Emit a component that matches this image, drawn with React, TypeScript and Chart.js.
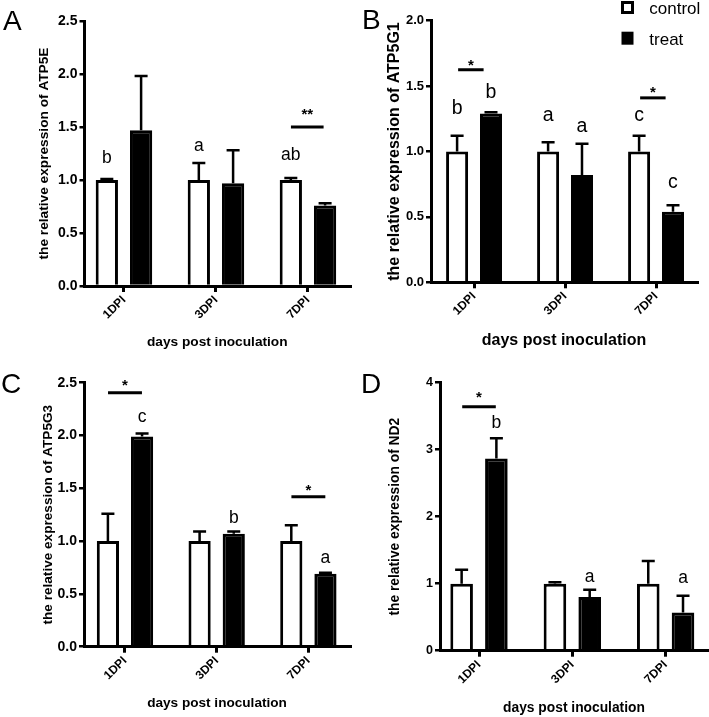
import React, { useEffect, useRef } from 'react';
import { Chart, registerables } from 'chart.js';

Chart.register(...registerables);

// ---------- data ----------
const categories = ['1DPI', '3DPI', '7DPI'];
const seriesNames = ['control', 'treat'];
const xTitle = 'days post inoculation';

// Panel A – ATP5E
const controlA = [1.0, 1.0, 1.0];
const controlErrA = [0.01, 0.16, 0.02];
const treatA = [1.47, 0.97, 0.76];
const treatErrA = [0.51, 0.31, 0.02];
const yTicksA = [0, 0.5, 1.0, 1.5, 2.0, 2.5];
const lettersA = [
  { cat: 0, series: 0, text: 'b', y: 1.16 },
  { cat: 1, series: 0, text: 'a', y: 1.27 },
  { cat: 2, series: 0, text: 'ab', y: 1.19 },
];
const sigsA = [{ cat: 2, y: 1.5, text: '**', textY: 1.66 }];

// Panel B – ATP5G1
const controlB = [1.0, 1.0, 1.0];
const controlErrB = [0.12, 0.07, 0.12];
const treatB = [1.29, 0.82, 0.54];
const treatErrB = [0.01, 0.24, 0.05];
const yTicksB = [0, 0.5, 1.0, 1.5, 2.0];
const lettersB = [
  { cat: 0, series: 0, text: 'b', y: 1.29 },
  { cat: 0, series: 1, text: 'b', y: 1.41 },
  { cat: 1, series: 0, text: 'a', y: 1.23 },
  { cat: 1, series: 1, text: 'a', y: 1.15 },
  { cat: 2, series: 0, text: 'c', y: 1.23 },
  { cat: 2, series: 1, text: 'c', y: 0.72 },
];
const sigsB = [
  { cat: 0, y: 1.625, text: '*', textY: 1.69 },
  { cat: 2, y: 1.41, text: '*', textY: 1.48 },
];

// Panel C – ATP5G3
const controlC = [1.0, 1.0, 1.0];
const controlErrC = [0.26, 0.09, 0.15];
const treatC = [1.99, 1.07, 0.69];
const treatErrC = [0.03, 0.02, 0.01];
const yTicksC = [0, 0.5, 1.0, 1.5, 2.0, 2.5];
const lettersC = [
  { cat: 0, series: 1, text: 'c', y: 2.13 },
  { cat: 1, series: 1, text: 'b', y: 1.17 },
  { cat: 2, series: 1, text: 'a', y: 0.79 },
];
const sigsC = [
  { cat: 0, y: 2.405, text: '*', textY: 2.51 },
  { cat: 2, y: 1.42, text: '*', textY: 1.515 },
];

// Panel D – ND2
const controlD = [1.0, 1.0, 1.0];
const controlErrD = [0.21, 0.02, 0.34];
const treatD = [2.87, 0.8, 0.57];
const treatErrD = [0.3, 0.11, 0.25];
const yTicksD = [0, 1, 2, 3, 4];
const lettersD = [
  { cat: 0, series: 1, text: 'b', y: 3.32 },
  { cat: 1, series: 1, text: 'a', y: 1.03 },
  { cat: 2, series: 1, text: 'a', y: 1.015 },
];
const sigsD = [{ cat: 0, y: 3.64, text: '*', textY: 3.84 }];

// ---------- layout / style ----------
const FONT = "'Liberation Sans', Arial, Helvetica, sans-serif";

type Letter = { cat: number; series: number; text: string; y: number };
type Sig = { cat: number; y: number; text: string; textY: number };

interface PanelDef {
  tag: string;
  gene: string;
  control: number[];
  controlErr: number[];
  treat: number[];
  treatErr: number[];
  yTicks: number[];
  decimals: number;
  letters: Letter[];
  sigs: Sig[];
  legend: boolean;
  box: { left: number; top: number; w: number; h: number };
  area: [number, number, number, number];
  yTitleX: number;
  xTitleY: number;
  xRange: [number, number];
  span: [number, number];
  tickFont: number;
  titleFont: number;
  letterFont: number;
  tagPos: [number, number];
}

const panels: PanelDef[] = [
  {
    tag: 'A', gene: 'ATP5E', control: controlA, controlErr: controlErrA, treat: treatA, treatErr: treatErrA,
    yTicks: yTicksA, decimals: 1, letters: lettersA, sigs: sigsA, legend: false,
    box: { left: 0, top: 0, w: 354, h: 358 }, area: [84.5, 21, 350, 286], yTitleX: 44, xTitleY: 342,
    xRange: [-0.429, 2.457], span: [-0.185, 0.17], tickFont: 14, titleFont: 13.7, letterFont: 17.5, tagPos: [3, 29.5],
  },
  {
    tag: 'B', gene: 'ATP5G1', control: controlB, controlErr: controlErrB, treat: treatB, treatErr: treatErrB,
    yTicks: yTicksB, decimals: 1, letters: lettersB, sigs: sigsB, legend: true,
    box: { left: 354, top: 0, w: 355, h: 358 }, area: [77, 20.7, 343, 282.3], yTitleX: 41, xTitleY: 341,
    xRange: [-0.473, 2.45], span: [-0.175, 0.105], tickFont: 13, titleFont: 16, letterFont: 19.5, tagPos: [8, 28.5],
  },
  {
    tag: 'C', gene: 'ATP5G3', control: controlC, controlErr: controlErrC, treat: treatC, treatErr: treatErrC,
    yTicks: yTicksC, decimals: 1, letters: lettersC, sigs: sigsC, legend: false,
    box: { left: 0, top: 358, w: 354, h: 359 }, area: [84, 24.7, 350, 288.7], yTitleX: 48, xTitleY: 345,
    xRange: [-0.447, 2.454], span: [-0.185, 0.185], tickFont: 14, titleFont: 13.6, letterFont: 17.5, tagPos: [1, 35],
  },
  {
    tag: 'D', gene: 'ND2', control: controlD, controlErr: controlErrD, treat: treatD, treatErr: treatErrD,
    yTicks: yTicksD, decimals: 0, letters: lettersD, sigs: sigsD, legend: false,
    box: { left: 354, top: 358, w: 355, h: 359 }, area: [86, 24.7, 354, 292.7], yTitleX: 41, xTitleY: 350,
    xRange: [-0.418, 2.454], span: [-0.18, 0.18], tickFont: 12.5, titleFont: 13.8, letterFont: 17.5, tagPos: [7, 35],
  },
];

function makePlugin(p: PanelDef) {
  return {
    id: 'annot' + p.tag,
    afterDatasetsDraw(chart: any) {
      const ctx = chart.ctx;
      const ys = chart.scales.y;
      ctx.save();
      ctx.strokeStyle = '#000';
      ctx.lineWidth = 2.5;
      const cap = 13;
      [p.control, p.treat].forEach((vals, d) => {
        const errs = d === 0 ? p.controlErr : p.treatErr;
        const meta = chart.getDatasetMeta(d);
        meta.data.forEach((el: any, i: number) => {
          const x = el.x;
          const yb = el.y;
          const yt = ys.getPixelForValue(vals[i] + errs[i]);
          ctx.beginPath();
          ctx.moveTo(x, yb);
          ctx.lineTo(x, yt);
          ctx.moveTo(x - cap / 2, yt);
          ctx.lineTo(x + cap / 2, yt);
          ctx.stroke();
        });
      });
      ctx.restore();
    },
    afterDraw(chart: any) {
      const ctx = chart.ctx;
      const xs = chart.scales.x;
      const ys = chart.scales.y;
      ctx.save();
      ctx.fillStyle = '#000';
      ctx.strokeStyle = '#000';
      // group letters
      ctx.font = `${p.letterFont}px ${FONT}`;
      ctx.textAlign = 'center';
      ctx.textBaseline = 'alphabetic';
      p.letters.forEach((l) => {
        const el: any = chart.getDatasetMeta(l.series).data[l.cat];
        ctx.fillText(l.text, el.x, ys.getPixelForValue(l.y));
      });
      // significance lines
      const starSize = 15;
      p.sigs.forEach((s) => {
        const x1 = xs.getPixelForValue(s.cat + p.span[0]);
        const x2 = xs.getPixelForValue(s.cat + p.span[1]);
        const y = ys.getPixelForValue(s.y);
        ctx.lineWidth = 3;
        ctx.beginPath();
        ctx.moveTo(x1, y);
        ctx.lineTo(x2, y);
        ctx.stroke();
        ctx.font = `bold ${starSize}px ${FONT}`;
        ctx.fillText(s.text, (x1 + x2) / 2, ys.getPixelForValue(s.textY) + 0.58 * starSize);
      });
      // panel tag
      ctx.textAlign = 'left';
      ctx.font = `28px ${FONT}`;
      ctx.fillText(p.tag, p.tagPos[0], p.tagPos[1]);
      // legend
      if (p.legend) {
        const bx = 267;
        const tx = 295.3;
        ctx.lineWidth = 3;
        ctx.strokeRect(bx + 1.5, 1 + 1.5, 10, 10);
        ctx.fillRect(bx + 0.5, 31.7, 12, 13);
        ctx.font = `17px ${FONT}`;
        ctx.fillText(seriesNames[0], tx, 14);
        ctx.fillText(seriesNames[1], tx, 45);
      }
      ctx.restore();
    },
  };
}

function buildConfig(p: PanelDef): any {
  const { w, h } = p.box;
  const [aL, aT, aR, aB] = p.area;
  const titleLH = p.titleFont * 1.2;
  return {
    type: 'bar',
    data: {
      datasets: [
        {
          label: seriesNames[0],
          data: p.control.map((v, i) => ({ x: i, y: v })),
          backgroundColor: '#ffffff',
          borderColor: '#000000',
          borderWidth: 3,
          borderSkipped: 'start',
          categoryPercentage: 0.745,
          barPercentage: 0.65,
        },
        {
          label: seriesNames[1],
          data: p.treat.map((v, i) => ({ x: i, y: v })),
          backgroundColor: '#000000',
          borderColor: '#000000',
          borderWidth: 3,
          borderSkipped: 'start',
          categoryPercentage: 0.745,
          barPercentage: 0.65,
        },
      ],
    },
    options: {
      responsive: false,
      maintainAspectRatio: false,
      animation: false,
      events: [],
      layout: { padding: { left: 0, top: aT, right: w - aR, bottom: 0 } },
      plugins: { legend: { display: false }, tooltip: { enabled: false } },
      scales: {
        x: {
          type: 'linear',
          min: p.xRange[0],
          max: p.xRange[1],
          offset: false,
          grid: { display: true, drawOnChartArea: false, offset: false, color: '#000', lineWidth: 3, tickLength: 6, z: 1 },
          border: { display: true, color: '#000', width: 3, z: 1 },
          afterBuildTicks: (s: any) => {
            s.ticks = categories.map((_, i) => ({ value: i }));
          },
          afterFit: (s: any) => {
            s.height = h - aB;
          },
          ticks: {
            autoSkip: false,
            minRotation: 45,
            maxRotation: 45,
            padding: 1,
            color: '#000',
            font: { family: FONT, size: 12, weight: 'bold' },
            callback: (v: number) => categories[Math.round(v)] ?? '',
          },
          title: {
            display: true,
            text: xTitle,
            color: '#000',
            font: { family: FONT, size: p.titleFont, weight: 'bold' },
            padding: { top: 0, bottom: h - p.xTitleY - titleLH / 2 },
          },
        },
        y: {
          type: 'linear',
          min: p.yTicks[0],
          max: p.yTicks[p.yTicks.length - 1],
          grid: { display: true, drawOnChartArea: false, color: '#000', lineWidth: 2.5, tickLength: 5, z: 1 },
          border: { display: true, color: '#000', width: 3, z: 1 },
          afterBuildTicks: (s: any) => {
            s.ticks = p.yTicks.map((v) => ({ value: v }));
          },
          afterFit: (s: any) => {
            s.width = aL;
          },
          ticks: {
            padding: 2,
            color: '#000',
            font: { family: FONT, size: p.tickFont, weight: 'bold' },
            callback: (v: number) => Number(v).toFixed(p.decimals),
          },
          title: {
            display: true,
            text: `the relative expression of ${p.gene}`,
            color: '#000',
            font: { family: FONT, size: p.titleFont, weight: 'bold' },
            padding: { top: p.yTitleX - titleLH / 2, bottom: 0 },
          },
        },
      },
    },
    plugins: [makePlugin(p)],
  };
}

function PanelChart({ p }: { p: PanelDef }) {
  const ref = useRef<HTMLCanvasElement | null>(null);
  useEffect(() => {
    if (!ref.current) return;
    const chart = new Chart(ref.current, buildConfig(p));
    return () => chart.destroy();
  }, [p]);
  return (
    <canvas
      ref={ref}
      width={p.box.w}
      height={p.box.h}
      style={{ position: 'absolute', left: p.box.left, top: p.box.top, width: p.box.w, height: p.box.h }}
    />
  );
}

export default function App() {
  return (
    <div style={{ position: 'fixed', left: 0, top: 0, width: 709, height: 717, background: '#fff', overflow: 'hidden' }}>
      {panels.map((p) => (
        <PanelChart key={p.tag} p={p} />
      ))}
    </div>
  );
}
